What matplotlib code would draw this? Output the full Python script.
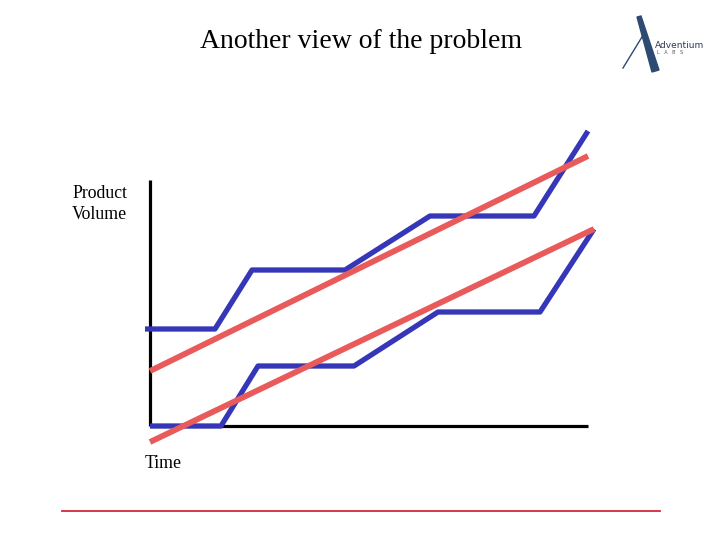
import matplotlib
matplotlib.use("Agg")
import matplotlib.pyplot as plt

# Values (pixel-like units, y grows downward)
upper_x = [145, 215, 252, 345, 430, 534, 588]
upper_y = [329, 329, 270, 270, 216, 216, 131]
lower_x = [150, 221, 258, 354, 438, 540, 594]
lower_y = [426, 426, 366, 366, 312, 312, 229]
trend_upper_x = [150, 588]
trend_upper_y = [371, 156]
trend_lower_x = [150, 594]
trend_lower_y = [442, 229]

blue = "#3636b8"
red = "#e95a5a"

fig = plt.figure(figsize=(7.2, 5.4), dpi=100)
ax = fig.add_axes([0, 0, 1, 1])
ax.set_xlim(0, 720)
ax.set_ylim(540, 0)
ax.axis("off")

# axes of the sketch
ax.plot([150, 150], [180, 426], color="black", lw=2.3, solid_capstyle="butt")
ax.plot([150, 588], [426, 426], color="black", lw=2.3, solid_capstyle="butt")

# step curves
ax.plot(upper_x, upper_y, color=blue, lw=3.8, solid_capstyle="butt")
ax.plot(lower_x, lower_y, color=blue, lw=3.8, solid_capstyle="butt")

# trend lines
ax.plot(trend_upper_x, trend_upper_y, color=red, lw=4.2, solid_capstyle="butt")
ax.plot(trend_lower_x, trend_lower_y, color=red, lw=4.2, solid_capstyle="butt")

serif = "Liberation Serif"
ax.text(361, 41, "Another view of the problem", family=serif, fontsize=20,
        ha="center", va="center")
ax.text(72, 204, "Product\nVolume", family=serif, fontsize=12.8,
        ha="left", va="center", linespacing=1.25)
ax.text(145, 463, "Time", family=serif, fontsize=12.8, ha="left", va="center")

# bottom rule
ax.plot([62, 660], [511, 511], color="#d42a36", lw=1.3)

# logo
ax.fill([637, 641, 659, 652], [17, 16, 70, 72], color="#2c4a72")
ax.plot([623, 645], [68, 32], color="#2c4a72", lw=1)
ax.text(655, 45, "Adventium", family="DejaVu Sans", fontsize=6.5,
        color="#2c3a5a", ha="left", va="center")
ax.text(657, 53, "L   A   B   S", family="DejaVu Sans", fontsize=3.5,
        color="#555555", ha="left", va="center")

fig.savefig("out.png", dpi=100)
